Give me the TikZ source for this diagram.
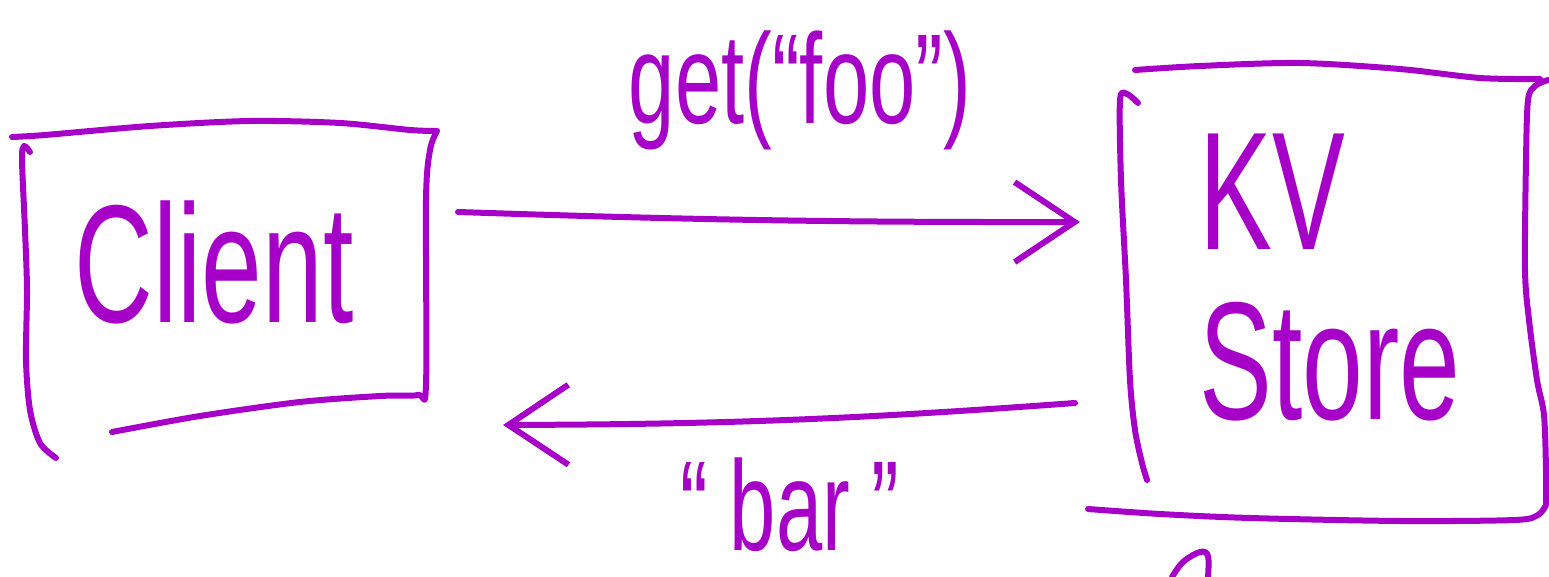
\documentclass[tikz,border=0pt]{standalone}
\usepackage{fontspec}
\setmainfont{Liberation Sans}
\newfontfamily\handfont{Liberation Sans}[FakeStretch=0.65]
\usepackage{xcolor}
\usepackage{tikz}
\usetikzlibrary{arrows.meta,positioning,calc}
\definecolor{inkpurple}{RGB}{166,0,200}

\begin{document}
\begin{tikzpicture}[x=0.5pt,y=-0.5pt,
    ink/.style={draw=inkpurple, line width=3pt, line cap=round, line join=round},
    boxarea/.style={inner sep=0pt, outer sep=0pt, text=inkpurple, font=\handfont\fontsize{84}{85}\selectfont},
    msglbl/.style={inner sep=0pt, text=inkpurple, font=\handfont\fontsize{64}{64}\selectfont},
    msg/.style={ink, -{Straight Barb[length=30pt, width=40pt, line width=3pt]}}]
    \useasboundingbox (0,0) rectangle (1549,577);
    % the two boxes (text inside, outline drawn by hand)
    \node[boxarea, minimum width=216pt, minimum height=150pt] (client) at (214,262) {Client};
    \node[boxarea, minimum width=205pt, minimum height=210pt, align=left] (store) at (1330,278) {KV\\Store};
    \draw[ink] plot[smooth, tension=0.5] coordinates {(12,137) (45,135) (150,126) (250,121) (340,123) (410,130) (437,131)}
        plot[smooth, tension=0.5] coordinates {(437,131) (430,150) (426,200) (426,385) (418,395) (380,396) (300,402) (200,416) (112,432)};
    \draw[ink] plot[smooth, tension=0.5] coordinates {(30,152) (24,146) (22,160) (25,230) (27,290) (26,360) (30,410) (40,443) (56,458)};
    \draw[ink] plot[smooth, tension=0.5] coordinates {(1135,70) (1200,66) (1300,63) (1400,69) (1480,78) (1540,79)};
    \draw[ink] plot[smooth, tension=0.5] coordinates {(1138,103) (1127,94) (1120,100) (1121,180) (1126,280) (1130,380) (1135,430) (1142,463) (1147,480)};
    \draw[ink] plot[smooth, tension=0.5] coordinates {(1548,80) (1535,86) (1528,100) (1526,160) (1525,270) (1529,320) (1537,380) (1544,415) (1546,470) (1546,505)}
        plot[smooth, tension=0.5] coordinates {(1546,505) (1538,515) (1515,520) (1400,521) (1250,518) (1160,514) (1088,509)};
    \draw[ink] plot[smooth, tension=0.6] coordinates {(1172,577) (1183,562) (1200,552) (1208,556) (1208,577)}; % cut off at the edge
    % request and reply
    \draw[msg] ([xshift=14pt,yshift=25pt]client.east) to[bend right=1] ([xshift=-22.5pt,yshift=28pt]store.west);
    \draw[msg] ([xshift=-25pt,yshift=-62.5pt]store.west) to[bend left=2] ([xshift=36.5pt,yshift=-81.5pt]client.east);
    \node[msglbl] (getfoo) at (800,90) {get(“foo”)};
    \node[msglbl] (bar) at (790,505) {“\,bar\,”};
\end{tikzpicture}
\end{document}
